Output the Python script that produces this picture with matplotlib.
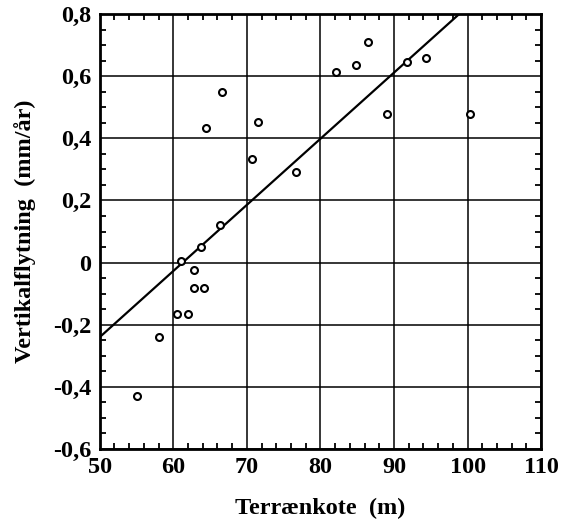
import numpy as np
import matplotlib.pyplot as plt
from matplotlib.ticker import MultipleLocator, FixedLocator, FixedFormatter

# aflæste punkter (terrænkote, vertikalflytning)
terraen = [55.0, 58.0, 60.5, 62.0, 62.8, 64.2, 62.8, 61.0, 63.8, 66.3,
           64.5, 66.6, 70.7, 71.5, 76.7, 82.1, 84.8, 86.5, 89.1, 91.8,
           94.3, 100.3]
flytning = [-0.43, -0.24, -0.167, -0.167, -0.083, -0.083, -0.023, 0.005, 0.049, 0.121,
            0.434, 0.55, 0.333, 0.453, 0.291, 0.613, 0.636, 0.709, 0.477, 0.647,
            0.659, 0.477]

# regressionslinje
linje_x = [50, 98.85]
linje_y = [-0.24, 0.8]

x_ticks = [50, 60, 70, 80, 90, 100, 110]
y_ticks = [-0.6, -0.4, -0.2, 0, 0.2, 0.4, 0.6, 0.8]
y_labels = ['-0,6', '-0,4', '-0,2', '0', '0,2', '0,4', '0,6', '0,8']

plt.rcParams['font.family'] = ['Liberation Serif', 'DejaVu Serif']
plt.rcParams['font.weight'] = 'bold'

fig = plt.figure(figsize=(5.8, 5.22), dpi=100)
ax = fig.add_axes([0.172, 0.140, 0.761, 0.833])

ax.grid(True, which='major', color='black', linewidth=1.1)
ax.plot(linje_x, linje_y, color='black', linewidth=1.6, solid_capstyle='butt')
ax.plot(terraen, flytning, 'o', markersize=5, markerfacecolor='white',
        markeredgecolor='black', markeredgewidth=1.5)

ax.set_xlim(50, 110)
ax.set_ylim(-0.6, 0.8)
ax.xaxis.set_major_locator(FixedLocator(x_ticks))
ax.yaxis.set_major_locator(FixedLocator(y_ticks))
ax.yaxis.set_major_formatter(FixedFormatter(y_labels))
ax.xaxis.set_minor_locator(MultipleLocator(2))
ax.yaxis.set_minor_locator(MultipleLocator(0.05))
ax.tick_params(which='both', direction='in', top=True, right=True, labelsize=17.5, width=1.3)
ax.tick_params(which='major', length=0, pad=6)
ax.tick_params(which='minor', length=4)
for s in ax.spines.values():
    s.set_linewidth(2)

ax.set_xlabel('Terrænkote  (m)', fontsize=17.5, fontweight='bold', labelpad=14)
ax.set_ylabel('Vertikalflytning  (mm/år)', fontsize=17.5, fontweight='bold', labelpad=12)

fig.savefig('out.png', dpi=100)
